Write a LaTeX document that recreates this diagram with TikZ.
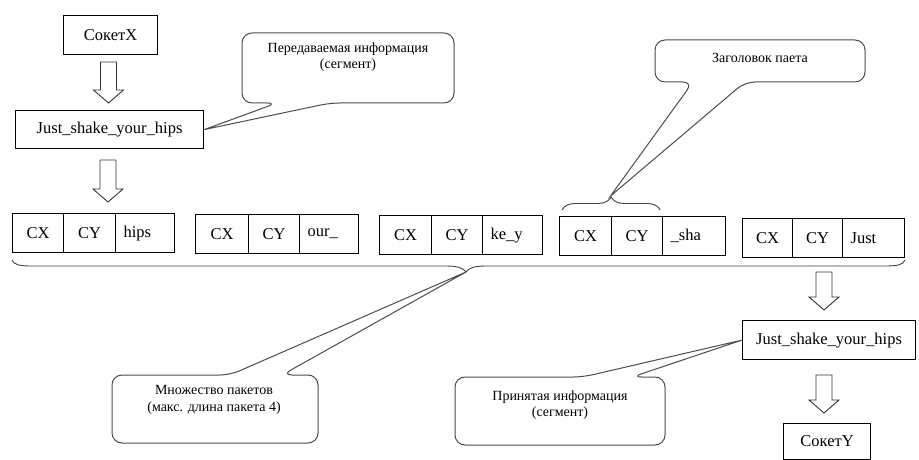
\documentclass[tikz,border=0pt]{standalone}
\usepackage{fontspec}
\setmainfont{Liberation Serif}
\usetikzlibrary{decorations.pathreplacing}

% hollow block arrow pointing down: centre x, top y, tip y
\newcommand\blockarrowdown[3]{%
  \draw[arrowline] ({#1-8},#2) -- ({#1+8},#2) -- ({#1+8},{#3-13}) -- ({#1+15},{#3-13})
    -- (#1,#3) -- ({#1-15},{#3-13}) -- ({#1-8},{#3-13}) -- cycle;}

% rounded speech bubble, pointer leaving the bottom edge
% args: left, top, right, bottom, base x1, base x2, tip
\newcommand\bubblebelow[7]{%
  \draw[bubble] [rounded corners=10pt] ({(#1+#3)/2},#2) -- (#3,#2) -- (#3,#4) -- (#6,#4)
    [sharp corners] -- (#7) [rounded corners=10pt] -- (#5,#4) -- (#1,#4) -- (#1,#2) -- cycle;}

% rounded speech bubble, pointer leaving the top edge
\newcommand\bubbleabove[7]{%
  \draw[bubble] [rounded corners=10pt] ({(#1+#3)/2},#4) -- (#1,#4) -- (#1,#2) -- (#5,#2)
    [sharp corners] -- (#7) [rounded corners=10pt] -- (#6,#2) -- (#3,#2) -- (#3,#4) -- cycle;}

\begin{document}
\begin{tikzpicture}[x=1pt,y=-1pt,
  box/.style={draw=black, line width=1.2pt, inner sep=0pt, anchor=north west,
    font=\fontsize{16.5}{18}\selectfont},
  cell/.style={box, minimum height=39pt},
  datacell/.style={cell, align=left, inner xsep=8pt, text width=#1},
  arrowline/.style={draw=black!80, line width=0.9pt, line join=miter},
  bubble/.style={draw=black!70, line width=1pt},
  bubbletext/.style={font=\fontsize{14}{16.5}\selectfont, align=center, inner sep=0pt},
  bracestyle/.style={draw=black!75, line width=0.9pt},
]
\useasboundingbox[fill=white] (0,0) rectangle (919,460);

% sender side
\node[box, minimum width=94pt, minimum height=39pt] (sockx) at (63,15) {СокетX};
\node[box, minimum width=188pt, minimum height=38pt] (sendmsg) at (15,110) {Just\_shake\_your\_hips};
\blockarrowdown{108.5}{62}{103}
\blockarrowdown{108}{160}{202}

% packets
\node[cell, minimum width=51pt] (p1x) at (12,213) {CX};
\node[cell, minimum width=52pt] (p1y) at (63,213) {CY};
\node[datacell=43pt] (p1d) at (115,213) {hips};

\node[cell, minimum width=53pt] (p2x) at (195,214) {CX};
\node[cell, minimum width=51pt] (p2y) at (248,214) {CY};
\node[datacell=43pt] (p2d) at (299,214) {our\_};

\node[cell, minimum width=52pt] (p3x) at (379,215) {CX};
\node[cell, minimum width=51pt] (p3y) at (431,215) {CY};
\node[datacell=44pt] (p3d) at (482,215) {ke\_y};

\node[cell, minimum width=52pt] (p4x) at (559,216) {CX};
\node[cell, minimum width=51pt] (p4y) at (611,216) {CY};
\node[datacell=47pt] (p4d) at (662,216) {\_sha};

\node[cell, minimum width=50pt] (p5x) at (742,218) {CX};
\node[cell, minimum width=50pt] (p5y) at (792,218) {CY};
\node[datacell=46pt] (p5d) at (842,218) {Just};

% brace over the header fields of one packet
\path (p4x.north west) ++(3,-6) coordinate (hb1);
\path (p4y.north east) ++(-3,-6) coordinate (hb2);
\draw[bracestyle, decorate, decoration={brace, amplitude=13pt}] (hb1) -- (hb2);
\coordinate (hdrtip) at (610.5,196);

% brace under the whole set of packets
\coordinate (settip) at (466,272);
\draw[bracestyle] (12,260) .. controls (14,265) and (20,266) .. (32,266) -- (446,266)
  .. controls (458,266) and (463,268) .. (settip)
  .. controls (469,268) and (474,266) .. (486,266) -- (885,266)
  .. controls (897,266) and (903,265) .. (905,260);

% receiver side
\node[box, minimum width=173pt, minimum height=39pt] (recvmsg) at (742,320) {Just\_shake\_your\_hips};
\node[box, minimum width=87pt, minimum height=36pt] (socky) at (783,423) {СокетY};
\blockarrowdown{824}{272}{310}
\blockarrowdown{824}{375}{413}

% speech bubbles
\bubblebelow{242}{33}{454}{103}{277}{330}{sendmsg.east}
\node[bubbletext] (sendnote) at (348,57) {Передаваемая информация\\(сегмент)};

\bubblebelow{655}{40}{865}{82}{693}{745}{hdrtip}
\node[bubbletext] (hdrnote) at (760,58) {Заголовок паета};

\bubbleabove{112}{375}{318}{443}{230}{282}{settip}
\node[bubbletext] (setnote) at (214,400) {Множество пакетов\\(макс. длина пакета 4)};

\bubbleabove{455}{377}{665}{445}{583}{632}{recvmsg.west}
\node[bubbletext] (recvnote) at (560,405) {Принятая информация\\(сегмент)};
\end{tikzpicture}
\end{document}
